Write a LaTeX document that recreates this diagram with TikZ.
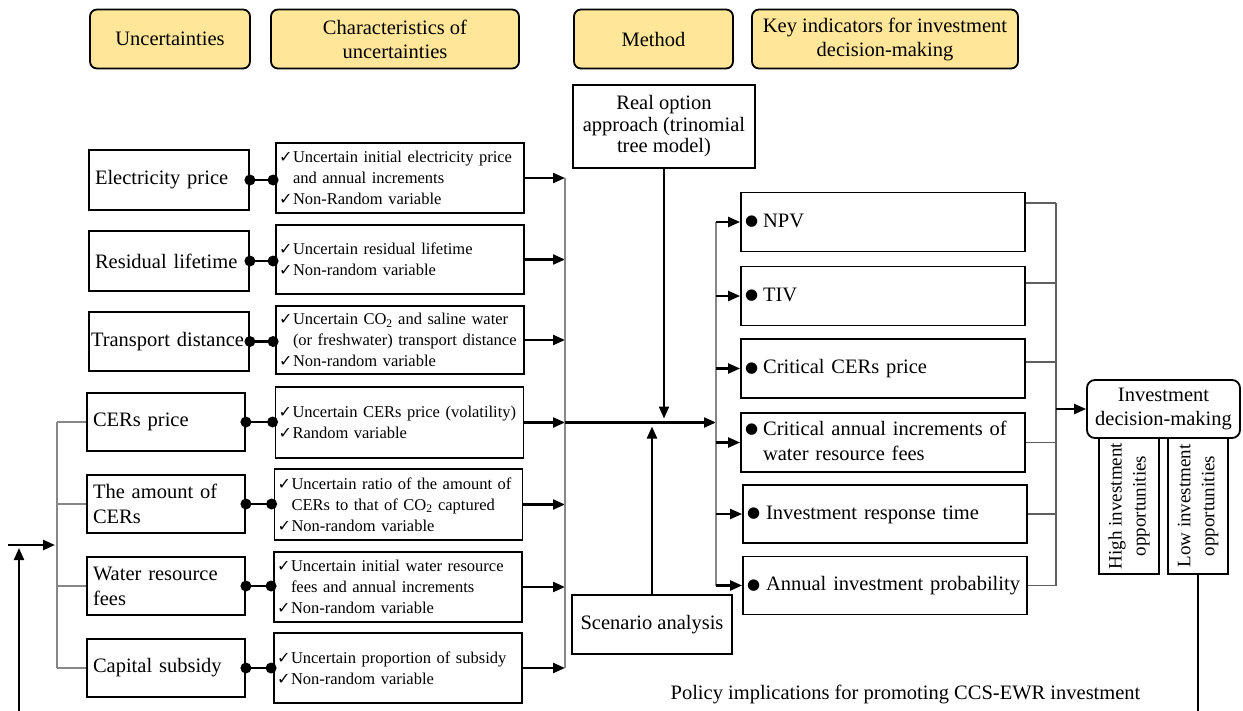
\documentclass[tikz,border=0pt]{standalone}
\usepackage{fontspec}
\setmainfont{Liberation Serif}
\newfontfamily\djv{DejaVu Sans}
\usetikzlibrary{arrows.meta,calc}
\definecolor{hdry}{RGB}{255,230,153}
\definecolor{busgray}{RGB}{135,135,135}
\definecolor{dgray}{RGB}{95,95,95}
\newcommand{\ck}{\makebox[14pt][l]{\djv\fontsize{16}{16}\selectfont ✓}}
\newcommand{\ckind}{\hspace*{14pt}}
\newcommand{\fnt}{\fontsize{20.5}{25}\selectfont}
\newcommand{\fro}{\fontsize{20.5}{21.5}\selectfont}
\newcommand{\fhd}{\fontsize{20.5}{24}\selectfont}
\newcommand{\fsm}{\fontsize{16.5}{21}\selectfont}
\newcommand{\fvr}{\fontsize{19}{24}\selectfont}
\newcommand{\bul}{\raisebox{1.5pt}{\djv\fontsize{15}{15}\selectfont ●}}
\begin{document}
\begin{tikzpicture}[x=1pt,y=-1pt,
  hdr/.style={draw,line width=1.8pt,rounded corners=7pt,fill=hdry,align=center,font=\fhd,inner sep=0pt,minimum height=59pt},
  ubox/.style={draw,line width=1.8pt,text width=148pt,inner xsep=6pt,inner ysep=0pt,align=left,font=\fnt},
  cbox/.style={draw,line width=1.8pt,text width=242pt,inner xsep=3pt,inner ysep=0pt,align=left,font=\fsm},
  kbox/.style={draw,line width=1.8pt,text width=276pt,inner xsep=4pt,inner ysep=0pt,minimum height=59pt,align=left,font=\fnt},
  pbox/.style={draw,line width=1.8pt,align=center,inner sep=0pt},
  arr/.style={line width=2.2pt,-{Triangle[length=12pt,width=10pt]}},
  link/.style={line width=2.2pt},
  gbus/.style={line width=1.6pt,busgray},
  rbusl/.style={line width=1.2pt,dgray},
]
\useasboundingbox (0,0) rectangle (1243,710);

% headers
\node[hdr,minimum width=160pt] (h1) at (170,39) {Uncertainties};
\node[hdr,minimum width=248pt] (h2) at (395,39) {Characteristics of\\uncertainties};
\node[hdr,minimum width=159pt] (h3) at (653.5,39) {Method};
\node[hdr,minimum width=266pt] (h4) at (885,39) {Key indicators for investment\\decision-making};

% uncertainties
\node[ubox,minimum height=60pt] (u1) at (169,180) {Electricity price};
\node[ubox,minimum height=60pt] (u2) at (169,261) {Residual lifetime};
\node[ubox,minimum height=59pt,inner xsep=2pt,text width=156pt] (u3) at (169,341.5) {Transport distance};
\node[ubox,minimum height=58pt,text width=146pt] (u4) at (166,422) {CERs price};
\node[ubox,minimum height=58pt,text width=146pt] (u5) at (166,504) {The amount of\\CERs};
\node[ubox,minimum height=58pt,text width=146pt] (u6) at (166,586) {Water resource\\fees};
\node[ubox,minimum height=58pt,text width=146pt] (u7) at (166,668) {Capital subsidy};

% characteristics
\node[cbox,minimum height=70pt] (c1) at (400,178) {\ck Uncertain initial electricity price\\\ckind and annual increments\\\ck Non-Random variable};
\node[cbox,minimum height=69pt] (c2) at (400,259.5) {\ck Uncertain residual lifetime\\\ck Non-random variable};
\node[cbox,minimum height=68pt] (c3) at (400,340) {\ck Uncertain CO\textsubscript{2} and saline water\\\ckind (or freshwater) transport distance\\\ck Non-random variable};
\node[cbox,minimum height=71pt] (c4) at (399.5,422.5) {\ck Uncertain CERs price (volatility)\\\ck Random variable};
\node[cbox,minimum height=71pt] (c5) at (398.5,504.5) {\ck Uncertain ratio of the amount of\\\ckind CERs to that of CO\textsubscript{2} captured\\\ck Non-random variable};
\node[cbox,minimum height=70pt] (c6) at (398,587) {\ck Uncertain initial water resource\\\ckind fees and annual increments\\\ck Non-random variable};
\node[cbox,minimum height=70pt] (c7) at (398,668) {\ck Uncertain proportion of subsidy\\\ck Non-random variable};

% dot links
\foreach \i in {1,...,7}{
  \draw[link] (u\i.east) -- (u\i.east -| c\i.west);
  \fill (u\i.east) circle (5.5pt);
  \fill ($(u\i.east -| c\i.west)+(-2,0)$) circle (5.5pt);
}

% method boxes
\node[pbox,font=\fro,minimum width=182pt,minimum height=83pt] (ro) at (664,126.5) {Real option\\approach (trinomial\\tree model)};
\node[pbox,font=\fnt,minimum width=160pt,minimum height=59pt,line width=1.5pt] (sa) at (652,624.5) {Scenario analysis};

% indicators
\node[kbox] (k1) at (883,222) {\begin{tabular}{@{}l@{\hspace{5pt}}l@{}}\bul & NPV\end{tabular}};
\node[kbox] (k2) at (883,296) {\begin{tabular}{@{}l@{\hspace{5pt}}l@{}}\bul & TIV\end{tabular}};
\node[kbox] (k3) at (883,368.5) {\begin{tabular}{@{}l@{\hspace{5pt}}l@{}}\bul & Critical CERs price\end{tabular}};
\node[kbox] (k4) at (883,442.5) {\begin{tabular}{@{}l@{\hspace{5pt}}l@{}}\bul & Critical annual increments of\\ & water resource fees\end{tabular}};
\node[kbox,minimum height=58pt] (k5) at (885,514) {\begin{tabular}{@{}l@{\hspace{6pt}}l@{}}\bul & Investment response time\end{tabular}};
\node[kbox,minimum height=58pt] (k6) at (885,585.5) {\begin{tabular}{@{}l@{\hspace{6pt}}l@{}}\bul & Annual investment probability\end{tabular}};

% decision
\node[pbox,font=\fhd,rounded corners=8pt,minimum width=153pt,minimum height=58pt] (idm) at (1163.5,409) {Investment\\decision-making};
\node[pbox,font=\fvr,rotate=90,minimum width=136pt,minimum height=60pt] (hi) at (1129,506) {High investment\\opportunities};
\node[pbox,font=\fvr,rotate=90,minimum width=136pt,minimum height=60pt] (lo) at (1198,506) {Low investment\\opportunities};

\node[font=\fnt,inner sep=0pt] (pol) at (905.5,694) {Policy implications for promoting CCS-EWR investment};

% buses
\coordinate (lb) at (565,422.5);
\coordinate (rb) at (716,422.5);
\coordinate (xb) at (1056,409);
\coordinate (br) at (57,545);

\foreach \i in {1,...,7}{
  \draw[arr] (c\i.east) -- (c\i.east -| lb);
}
\draw[gbus] (c1.east -| lb) -- (c7.east -| lb);
\draw[arr] (lb) -- (rb);
\draw[gbus] (k1.west -| rb) -- (k6.west -| rb);
\foreach \i in {1,...,6}{
  \draw[arr] (k\i.west -| rb) -- (k\i.west);
}
\draw[arr] (ro.south) -- ($(ro.south |- lb)+(0,-4)$);
\draw[arr] (sa.north) -- ($(sa.north |- lb)+(0,4)$);

% right collector
\coordinate (r1) at ($(k1.east)+(0,-19)$);
\coordinate (r2) at ($(k2.east)+(0,-13)$);
\coordinate (r3) at ($(k3.east)+(0,-6.5)$);
\coordinate (r4) at (k4.east);
\coordinate (r5) at (k5.east);
\coordinate (r6) at (k6.east);
\foreach \i in {1,...,6}{
  \draw[rbusl] (r\i) -- (r\i -| xb);
}
\draw[rbusl] (r1 -| xb) -- (r6 -| xb);
\draw[arr] (xb) -- (idm.west);

% feedback
\coordinate (fbb) at (19,712);
\coordinate (fbl) at (8,545);
\draw[link] (lo.west) -- (lo.west |- fbb);
\draw[arr] (fbb) -- (19,548);
\draw[arr] (fbl) -- ($(br)+(-2,0)$);

% left bracket
\draw[gbus,line width=1.4pt] (u4.west -| br) -- (u7.west -| br);
\foreach \i in {4,...,7}{
  \draw[gbus,line width=1.4pt] (u\i.west -| br) -- (u\i.west);
}
\end{tikzpicture}
\end{document}
